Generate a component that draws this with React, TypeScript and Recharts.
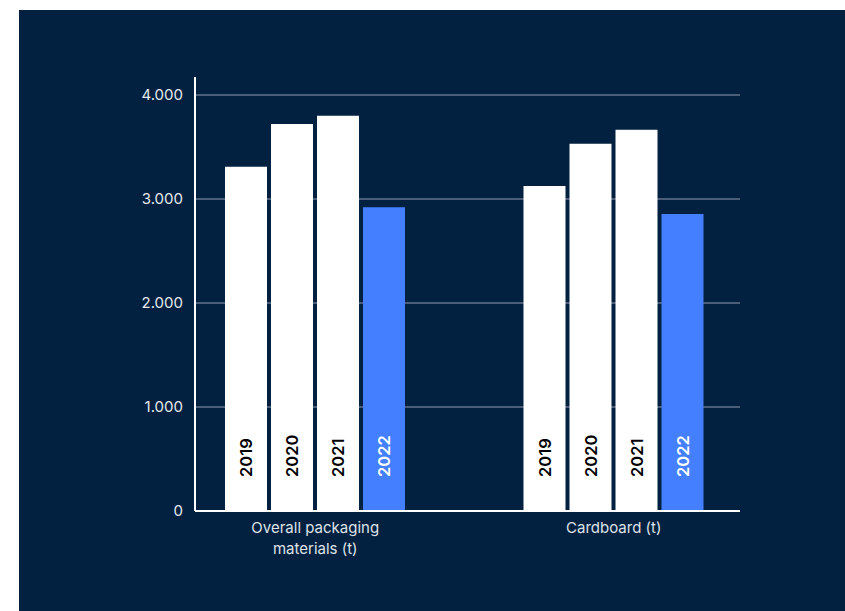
import { BarChart, Bar, XAxis, YAxis, CartesianGrid, LabelList, Text } from 'recharts';

const categories = ['Overall packaging materials (t)', 'Cardboard (t)'];
const years = ['2019', '2020', '2021', '2022'];
const values2019 = [3310, 3125];
const values2020 = [3720, 3530];
const values2021 = [3800, 3665];
const values2022 = [2920, 2855];
const yTicks = [0, 1000, 2000, 3000, 4000];

const data = categories.map((name, i) => ({
  name,
  y2019: values2019[i],
  y2020: values2020[i],
  y2021: values2021[i],
  y2022: values2022[i],
}));

const NAVY = '#02203f';
const BLUE = '#437fff';
const Y_MAX = 4173; // axis line runs a little above the 4.000 tick

// year printed vertically near the bottom of each bar
const yearLabel = (year: string, color: string) => (props: any) => {
  const { x, y, width, height } = props;
  const cx = Number(x) + Number(width) / 2;
  const by = Number(y) + Number(height) - 34;
  return (
    <text
      x={cx}
      y={by}
      transform={`rotate(-90, ${cx}, ${by})`}
      textAnchor="start"
      dominantBaseline="central"
      fill={color}
      fontSize={16.5}
      fontWeight={600}
      fontFamily="Inter, sans-serif"
    >
      {year}
    </text>
  );
};

const CategoryTick = (props: any) => {
  const { x, y, payload } = props;
  return (
    <Text
      x={x}
      y={y + 3}
      width={160}
      textAnchor="middle"
      verticalAnchor="start"
      lineHeight={21}
      fill="#dfe3ea"
      fontSize={15}
      fontFamily="Inter, sans-serif"
    >
      {payload.value}
    </Text>
  );
};

const fmt = (v: number) => v.toLocaleString('de-DE');

// only draw grid lines at the labelled ticks
const gridRows = ({ offset }: any) =>
  yTicks.map((t) => offset.top + offset.height * (1 - t / Y_MAX));

export default function App() {
  return (
    <div style={{ position: 'absolute', left: 19, top: 10, width: 826, height: 601, background: NAVY }}>
      <BarChart
        width={826}
        height={601}
        data={data}
        margin={{ top: 67, right: 105, bottom: 0, left: 0 }}
        barSize={42}
        barGap={4}
      >
        <CartesianGrid
          vertical={false}
          stroke="#4b5d78"
          strokeWidth={2}
          horizontalCoordinatesGenerator={gridRows}
        />
        <XAxis
          dataKey="name"
          height={100}
          padding={{ left: -29, right: -23 }}
          axisLine={{ stroke: '#ffffff', strokeWidth: 2 }}
          tickLine={false}
          tick={<CategoryTick />}
          interval={0}
        />
        <YAxis
          width={176}
          domain={[0, Y_MAX]}
          ticks={yTicks}
          tickFormatter={fmt}
          axisLine={{ stroke: '#ffffff', strokeWidth: 2 }}
          tickLine={false}
          tickMargin={6}
          tick={{ fill: '#e6e9ee', fontSize: 15, fontFamily: 'Inter, sans-serif' }}
        />
        <Bar dataKey="y2019" fill="#ffffff" isAnimationActive={false}>
          <LabelList content={yearLabel(years[0], '#000000')} />
        </Bar>
        <Bar dataKey="y2020" fill="#ffffff" isAnimationActive={false}>
          <LabelList content={yearLabel(years[1], '#000000')} />
        </Bar>
        <Bar dataKey="y2021" fill="#ffffff" isAnimationActive={false}>
          <LabelList content={yearLabel(years[2], '#000000')} />
        </Bar>
        <Bar dataKey="y2022" fill={BLUE} isAnimationActive={false}>
          <LabelList content={yearLabel(years[3], '#ffffff')} />
        </Bar>
      </BarChart>
    </div>
  );
}
